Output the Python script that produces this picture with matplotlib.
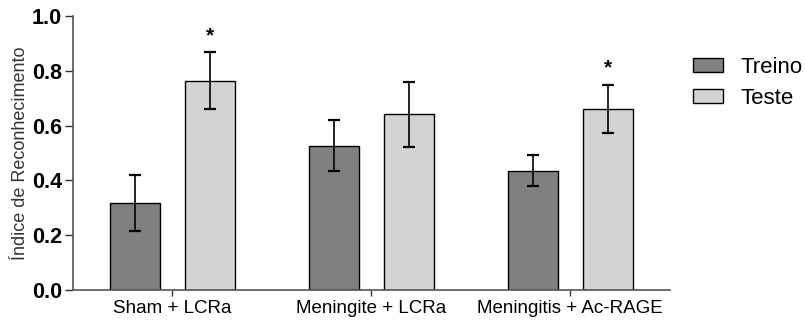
import numpy as np
import matplotlib
matplotlib.use("Agg")
import matplotlib.pyplot as plt

groups = ["Sham + LCRa", "Meningite + LCRa", "Meningitis + Ac-RAGE"]
treino = [0.316, 0.527, 0.435]
treino_err = [0.102, 0.092, 0.057]
teste = [0.764, 0.642, 0.662]
teste_err = [0.103, 0.119, 0.088]
stars = ["*", "", "*"]

plt.rcParams['font.family'] = ['Liberation Sans', 'DejaVu Sans']

fig = plt.figure(figsize=(8.05, 3.21), dpi=100)
ax = fig.add_axes([0.0907, 0.0966, 0.7413, 0.8534])

x = np.arange(len(groups))
w = 0.25
off = 0.188
ekw = dict(ecolor='black', elinewidth=1.2, capsize=4.5, capthick=1.6)
ax.bar(x - off, treino, w, yerr=treino_err, color='#808080', edgecolor='black',
       linewidth=1, label='Treino', error_kw=ekw, zorder=2)
ax.bar(x + off, teste, w, yerr=teste_err, color='#d3d3d3', edgecolor='black',
       linewidth=1, label='Teste', error_kw=ekw, zorder=2)

for i, s in enumerate(stars):
    if s:
        ax.text(x[i] + off, teste[i] + teste_err[i] + 0.025, s, ha='center',
                va='bottom', fontsize=15, fontweight='bold')

ax.set_xlim(-0.5, 2.5)
ax.set_ylim(0, 1.0)
ax.set_yticks([0.0, 0.2, 0.4, 0.6, 0.8, 1.0])
ax.set_yticklabels(['0.0', '0.2', '0.4', '0.6', '0.8', '1.0'], fontweight='bold', fontsize=15.5)
ax.set_xticks(x)
ax.set_xticklabels(groups, fontsize=13.5)
ax.set_ylabel('Índice de Reconhecimento', fontsize=13, color='#333333', labelpad=2)

for sp in ['top', 'right']:
    ax.spines[sp].set_visible(False)
for sp in ['left', 'bottom']:
    ax.spines[sp].set_color('#555555')
    ax.spines[sp].set_linewidth(1.2)
ax.tick_params(axis='y', length=6, width=1, color='#333333', pad=2)
ax.tick_params(axis='x', length=4, width=1, color='#333333', pad=3)

ax.legend(loc='upper left', bbox_to_anchor=(1.0385, 0.852), frameon=False,
          fontsize=16, handlelength=1.36, handleheight=0.6, labelspacing=0.45,
          handletextpad=0.77, borderpad=0, borderaxespad=0)

fig.savefig('out.png', dpi=100)
